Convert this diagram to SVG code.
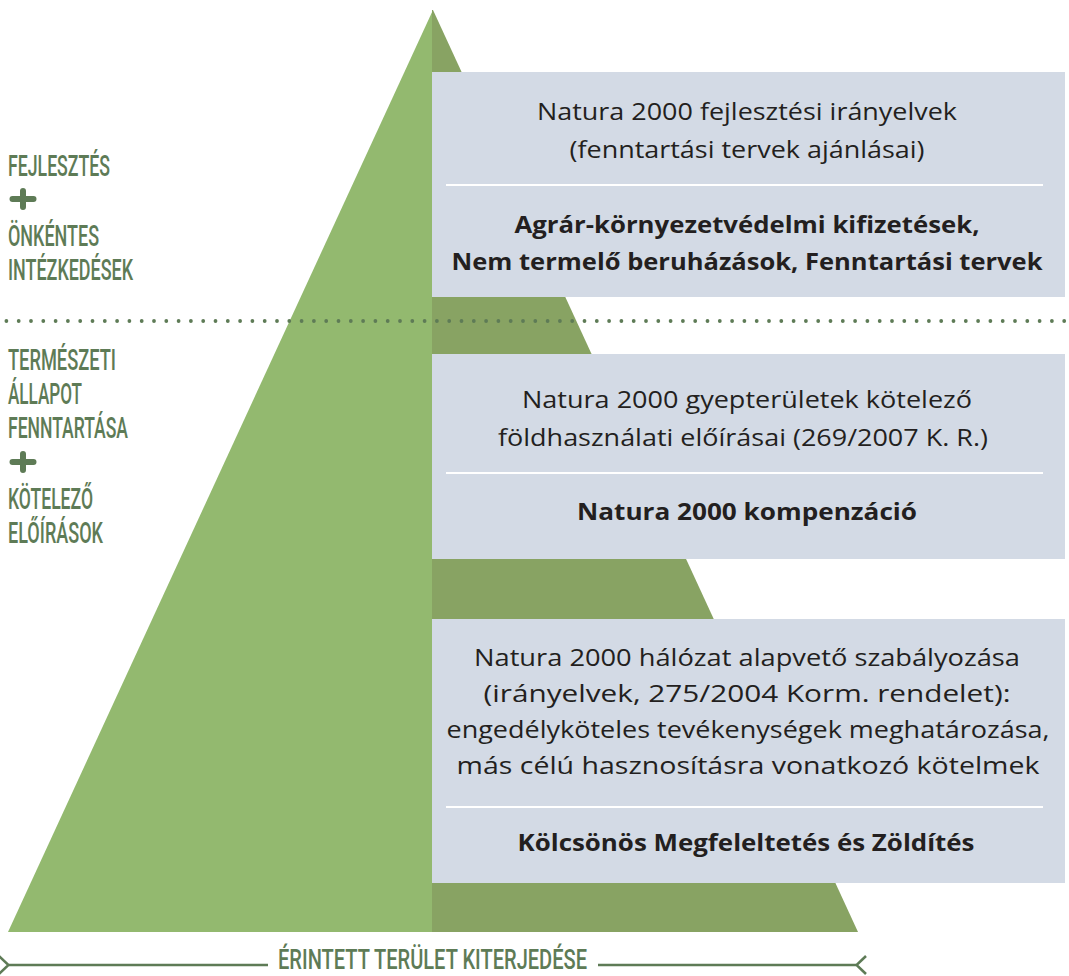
<svg xmlns="http://www.w3.org/2000/svg" width="1069" height="976" viewBox="0 0 1069 976">
<style>
.lbl{font-family:Roboto,"DejaVu Sans",sans-serif;font-size:30px;font-weight:500;fill:#5e7b56;}
.ax{font-family:Roboto,"DejaVu Sans",sans-serif;font-size:28px;font-weight:500;fill:#5e7b56;}
.t{font-family:"Open Sans","Noto Sans",sans-serif;font-size:23.5px;fill:#231f20;text-anchor:middle;}
.b{font-family:"Open Sans","Noto Sans",sans-serif;font-size:23px;font-weight:700;fill:#231f20;text-anchor:middle;}
.box{fill:#d3dae5;}
.div{stroke:#ffffff;stroke-width:2;}
.plus{stroke:#5e7b56;stroke-width:6;stroke-linecap:round;fill:none;}
</style>
<defs>
<marker id="arr" viewBox="0 0 12 20" refX="1" refY="10" markerWidth="12" markerHeight="20" markerUnits="userSpaceOnUse" orient="auto-start-reverse">
<path d="M11 1 L1.5 10 L11 19" fill="none" stroke="#5e7b56" stroke-width="2.6"/>
</marker>
</defs>
<rect width="1069" height="976" fill="#ffffff"/>
<g id="pyramid">
<polygon points="433,10 8,932 432,932" fill="#93b96f"/>
<polygon points="432,10 433,10 858,932 432,932" fill="#88a363"/>
</g>
<g id="box1">
<rect class="box" x="432" y="72" width="633" height="225"/>
<text class="t" x="747" y="120" textLength="420" lengthAdjust="spacingAndGlyphs">Natura 2000 fejlesztési irányelvek</text>
<text class="t" x="747" y="158" textLength="355" lengthAdjust="spacingAndGlyphs">(fenntartási tervek ajánlásai)</text>
<line class="div" x1="446" y1="185" x2="1043" y2="185"/>
<text class="b" x="747" y="233" textLength="465" lengthAdjust="spacingAndGlyphs">Agrár-környezetvédelmi kifizetések,</text>
<text class="b" x="747" y="270" textLength="591" lengthAdjust="spacingAndGlyphs">Nem termelő beruházások, Fenntartási tervek</text>
</g>
<g id="box2">
<rect class="box" x="432" y="354" width="633" height="205"/>
<text class="t" x="747" y="408" textLength="450" lengthAdjust="spacingAndGlyphs">Natura 2000 gyepterületek kötelező</text>
<text class="t" x="743" y="446" textLength="490" lengthAdjust="spacingAndGlyphs">földhasználati előírásai (269/2007 K. R.)</text>
<line class="div" x1="446" y1="473" x2="1043" y2="473"/>
<text class="b" x="747" y="520" textLength="340" lengthAdjust="spacingAndGlyphs">Natura 2000 kompenzáció</text>
</g>
<g id="box3">
<rect class="box" x="432" y="619" width="633" height="264"/>
<text class="t" x="747" y="666" textLength="546" lengthAdjust="spacingAndGlyphs">Natura 2000 hálózat alapvető szabályozása</text>
<text class="t" x="747" y="702" textLength="527" lengthAdjust="spacingAndGlyphs">(irányelvek, 275/2004 Korm. rendelet):</text>
<text class="t" x="748" y="738" textLength="603" lengthAdjust="spacingAndGlyphs">engedélyköteles tevékenységek meghatározása,</text>
<text class="t" x="748" y="774" textLength="583" lengthAdjust="spacingAndGlyphs">más célú hasznosításra vonatkozó kötelmek</text>
<line class="div" x1="446" y1="807" x2="1043" y2="807"/>
<text class="b" x="746" y="851" textLength="457" lengthAdjust="spacingAndGlyphs">Kölcsönös Megfeleltetés és Zöldítés</text>
</g>
<g id="separator">
<line x1="6.4" y1="321" x2="1069" y2="321" stroke="#5e7b56" stroke-width="3.8" stroke-linecap="round" stroke-dasharray="0 12.3"/>
</g>
<g id="label-top">
<text class="lbl" x="8" y="176" textLength="102" lengthAdjust="spacingAndGlyphs">FEJLESZTÉS</text>
<path class="plus" d="M12.5 199 H33.5 M23 191 V207"/>
<text class="lbl" x="8" y="246" textLength="91" lengthAdjust="spacingAndGlyphs">ÖNKÉNTES</text>
<text class="lbl" x="8" y="280" textLength="125" lengthAdjust="spacingAndGlyphs">INTÉZKEDÉSEK</text>
</g>
<g id="label-bottom">
<text class="lbl" x="8" y="370" textLength="108" lengthAdjust="spacingAndGlyphs">TERMÉSZETI</text>
<text class="lbl" x="8" y="404" textLength="74" lengthAdjust="spacingAndGlyphs">ÁLLAPOT</text>
<text class="lbl" x="8" y="438" textLength="120" lengthAdjust="spacingAndGlyphs">FENNTARTÁSA</text>
<path class="plus" d="M12.5 462 H33.5 M23 454 V470"/>
<text class="lbl" x="8" y="509" textLength="85" lengthAdjust="spacingAndGlyphs">KÖTELEZŐ</text>
<text class="lbl" x="8" y="543" textLength="95" lengthAdjust="spacingAndGlyphs">ELŐÍRÁSOK</text>
</g>
<g id="connectors">
<line x1="9" y1="965" x2="268" y2="965" stroke="#5e7b56" stroke-width="2.6" marker-start="url(#arr)"/>
<line x1="598" y1="965" x2="856" y2="965" stroke="#5e7b56" stroke-width="2.6" marker-end="url(#arr)"/>
</g>
<g id="axis-label">
<text class="ax" x="278" y="969" textLength="309" lengthAdjust="spacingAndGlyphs">ÉRINTETT TERÜLET KITERJEDÉSE</text>
</g>
</svg>
